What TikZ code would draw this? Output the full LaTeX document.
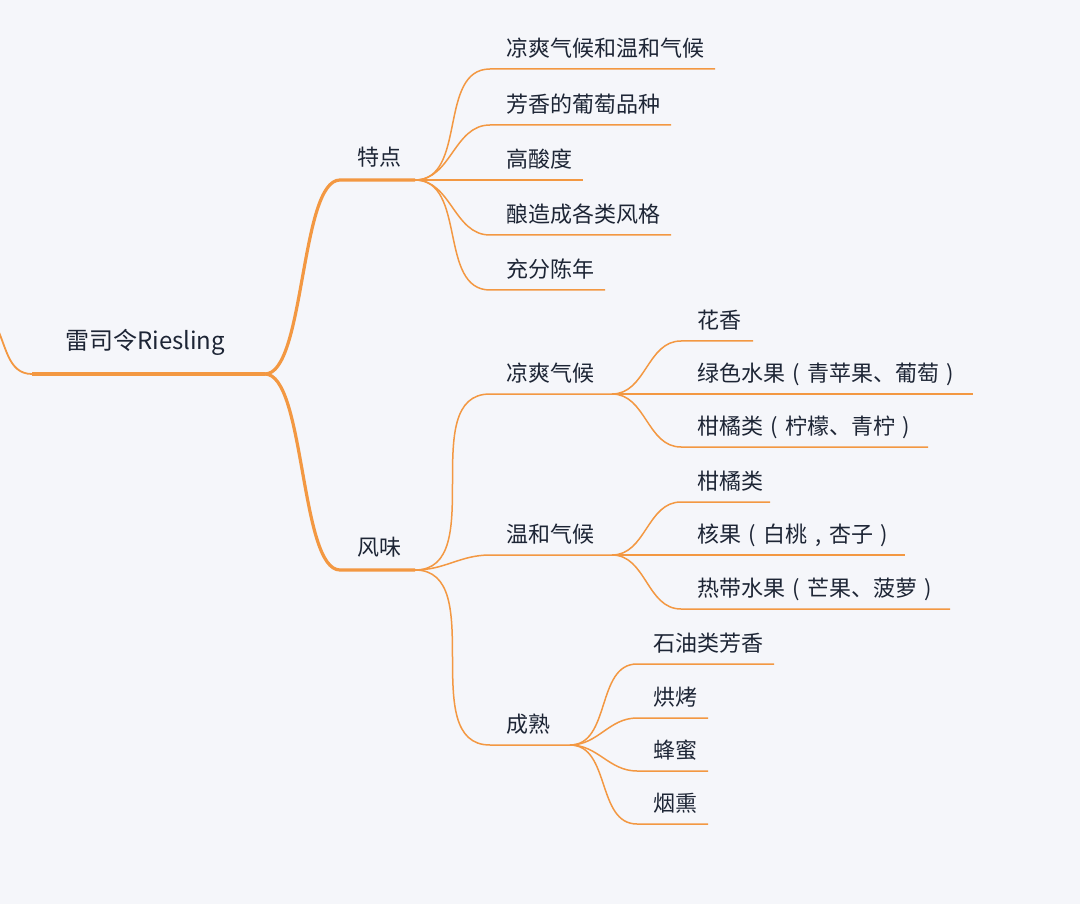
\documentclass[tikz,border=0pt]{standalone}
\usepackage{fontspec}
\setmainfont{Noto Sans CJK SC}
\usetikzlibrary{positioning}
\definecolor{mapbg}{RGB}{245,246,250}
\definecolor{maporange}{RGB}{243,152,66}
\definecolor{maptext}{RGB}{29,37,53}
% centred full-width punctuation
\newcommand{\openpar}{\makebox[1em]{(}}
\newcommand{\closepar}{\makebox[1em]{)}}
\newcommand{\midcomma}{\makebox[1em]{,}}
\tikzset{
  rootlabel/.style={
    inner sep=0pt,
    text depth=0pt,
    font=\fontsize{24}{28}\selectfont,
    text=maptext,
  },
  topic/.style={
    inner sep=0pt,
    text depth=0pt,
    font=\fontsize{22}{26}\selectfont,
    text=maptext,
  },
  mainbranch/.style={
    maporange,
    line width=3.2pt,
  },
  subbranch/.style={
    maporange,
    line width=1.5pt,
  },
}

\begin{document}
\begin{tikzpicture}[x=1pt,y=-1pt]
\fill[mapbg] (0,0) rectangle (1080,904);
\useasboundingbox (0,0) rectangle (1080,904);

% root
\coordinate (up) at (-6,322);
\coordinate (roota) at (32,374);
\coordinate (rootb) at (265,374);
\node[rootlabel,above right=24pt and 33pt of roota]
  (root)
  {雷司令Riesling};

% first level
\coordinate (feata) at (340,180);
\coordinate (featb) at (415,180);
\node[topic,above right=14pt and 17pt of feata]
  (feat)
  {特点};
\coordinate (flava) at (340,570);
\coordinate (flavb) at (415,570);
\node[topic,above right=14pt and 17pt of flava]
  (flav)
  {风味};

% features
\coordinate (feat1a) at (490,69);  \coordinate (feat1b) at (715,69);
\coordinate (feat2a) at (490,125); \coordinate (feat2b) at (671,125);
\coordinate (feat3a) at (490,180); \coordinate (feat3b) at (583,180);
\coordinate (feat4a) at (490,235); \coordinate (feat4b) at (671,235);
\coordinate (feat5a) at (490,290); \coordinate (feat5b) at (605,290);
\node[topic,above right=12pt and 16pt of feat1a] (feat1) {凉爽气候和温和气候};
\node[topic,above right=12pt and 16pt of feat2a] (feat2) {芳香的葡萄品种};
\node[topic,above right=12pt and 16pt of feat3a] (feat3) {高酸度};
\node[topic,above right=12pt and 16pt of feat4a] (feat4) {酿造成各类风格};
\node[topic,above right=12pt and 16pt of feat5a] (feat5) {充分陈年};

% flavours
\coordinate (coola) at (490,394); \coordinate (coolb) at (612,394);
\coordinate (milda) at (490,555); \coordinate (mildb) at (612,555);
\coordinate (ageda) at (490,745); \coordinate (agedb) at (570,745);
\node[topic,above right=12pt and 16pt of coola] (cool) {凉爽气候};
\node[topic,above right=12pt and 16pt of milda] (mild) {温和气候};
\node[topic,above right=12pt and 16pt of ageda] (aged) {成熟};

\coordinate (cool1a) at (681,341); \coordinate (cool1b) at (753,341);
\coordinate (cool2a) at (681,394); \coordinate (cool2b) at (973,394);
\coordinate (cool3a) at (681,447); \coordinate (cool3b) at (928,447);
\node[topic,above right=12pt and 16pt of cool1a] (cool1) {花香};
\node[topic,above right=12pt and 16pt of cool2a] (cool2) {绿色水果\openpar 青苹果、葡萄\closepar};
\node[topic,above right=12pt and 16pt of cool3a] (cool3) {柑橘类\openpar 柠檬、青柠\closepar};

\coordinate (mild1a) at (681,502); \coordinate (mild1b) at (770,502);
\coordinate (mild2a) at (681,555); \coordinate (mild2b) at (905,555);
\coordinate (mild3a) at (681,609); \coordinate (mild3b) at (950,609);
\node[topic,above right=12pt and 16pt of mild1a] (mild1) {柑橘类};
\node[topic,above right=12pt and 16pt of mild2a] (mild2) {核果\openpar 白桃\midcomma 杏子\closepar};
\node[topic,above right=12pt and 16pt of mild3a] (mild3) {热带水果\openpar 芒果、菠萝\closepar};

\coordinate (aged1a) at (637,664); \coordinate (aged1b) at (774,664);
\coordinate (aged2a) at (637,718); \coordinate (aged2b) at (708,718);
\coordinate (aged3a) at (637,771); \coordinate (aged3b) at (708,771);
\coordinate (aged4a) at (637,824); \coordinate (aged4b) at (708,824);
\node[topic,above right=12pt and 16pt of aged1a] (aged1) {石油类芳香};
\node[topic,above right=12pt and 16pt of aged2a] (aged2) {烘烤};
\node[topic,above right=12pt and 16pt of aged3a] (aged3) {蜂蜜};
\node[topic,above right=12pt and 16pt of aged4a] (aged4) {烟熏};

\begin{scope}[mainbranch]
\draw[line width=1.8pt]
  (up) to[out=-60,in=180] (roota);
\draw
  (roota) -- (rootb);
\draw
  (rootb) to[out=0,in=180,out distance=40pt,in distance=40pt] (feata) -- (featb);
\draw
  (rootb) to[out=0,in=180,out distance=40pt,in distance=40pt] (flava) -- (flavb);
\end{scope}

\begin{scope}[subbranch]
\draw (featb) to[out=0,in=180] (feat1a) -- (feat1b);
\draw (featb) to[out=0,in=180] (feat2a) -- (feat2b);
\draw (featb) to[out=0,in=180] (feat3a) -- (feat3b);
\draw (featb) to[out=0,in=180] (feat4a) -- (feat4b);
\draw (featb) to[out=0,in=180] (feat5a) -- (feat5b);
\draw (flavb) to[out=0,in=180] (coola) -- (coolb);
\draw (flavb) to[out=0,in=180] (milda) -- (mildb);
\draw (flavb) to[out=0,in=180] (ageda) -- (agedb);
\draw (coolb) to[out=0,in=180] (cool1a) -- (cool1b);
\draw (coolb) to[out=0,in=180] (cool2a) -- (cool2b);
\draw (coolb) to[out=0,in=180] (cool3a) -- (cool3b);
\draw (mildb) to[out=0,in=180] (mild1a) -- (mild1b);
\draw (mildb) to[out=0,in=180] (mild2a) -- (mild2b);
\draw (mildb) to[out=0,in=180] (mild3a) -- (mild3b);
\draw (agedb) to[out=0,in=180] (aged1a) -- (aged1b);
\draw (agedb) to[out=0,in=180] (aged2a) -- (aged2b);
\draw (agedb) to[out=0,in=180] (aged3a) -- (aged3b);
\draw (agedb) to[out=0,in=180] (aged4a) -- (aged4b);
\end{scope}
\end{tikzpicture}
\end{document}
